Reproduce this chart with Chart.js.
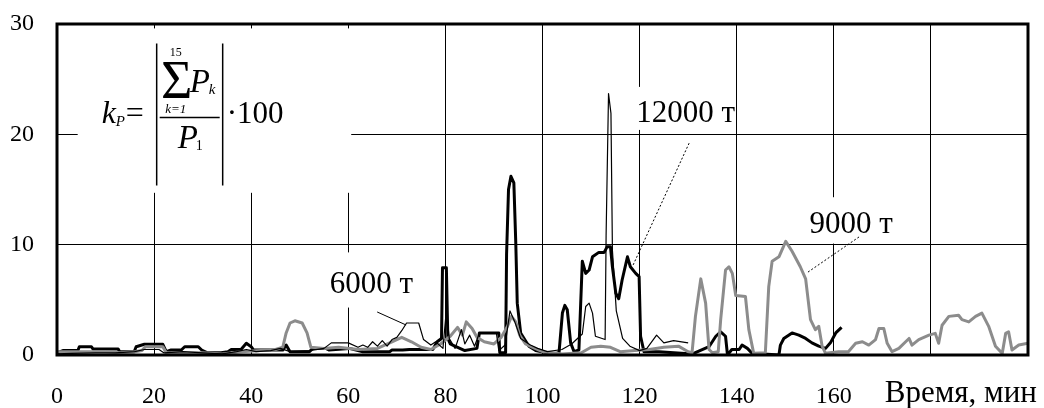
<!DOCTYPE html>
<html>
<head>
<meta charset="utf-8">
<script src="https://cdn.jsdelivr.net/npm/chart.js@4.4.1/dist/chart.umd.min.js"></script>
<style>
  html, body { margin: 0; padding: 0; background: #fff; }
</style>
</head>
<body>
<canvas id="chart" width="1044" height="408"></canvas>
<script>
// time, min
const xTicks = [0, 20, 40, 60, 80, 100, 120, 140, 160, 180, 200];
const yTicks = [0, 10, 20, 30];

// 6000 т (thin black line)
const t6000X = [0, 3, 8, 12, 16, 18, 21, 22, 26, 30, 34, 37, 39, 41, 44, 46, 48, 52, 55, 56.5,
  60, 62, 63, 64, 65, 66, 67, 68, 69, 70, 71, 72, 74.5, 75.5, 77, 78, 79.5, 80.2, 80.8, 82,
  83.3, 84, 85, 86, 87, 90.5, 91, 92.3, 93.3, 94.3, 95.5, 96.5, 97.5, 99, 101, 104, 106, 108.2, 108.9, 109.6,
  110.3, 110.9, 112.9, 113.1, 113.6, 114.1, 114.4, 115.2, 116.5, 118, 120, 121.5, 123.5, 125, 127, 130];
const t6000Y = [0.1, 0.15, 0.2, 0.2, 0.3, 0.5, 0.5, 0.2, 0.3, 0.2, 0.1, 0.3, 0.5, 0.3, 0.4, 0.6, 0.3, 0.4, 0.6, 1.1,
  1.1, 0.7, 0.9, 0.7, 1.2, 0.8, 1.3, 0.8, 1.4, 1.6, 2.2, 2.9, 2.9, 1.4, 0.9, 1.2, 0.6, 4.1, 1.5, 0.6,
  2.3, 1.0, 1.8, 0.8, 2.0, 2.0, 0.4, 0.9, 4.0, 3.0, 1.5, 1.2, 0.9, 0.6, 0.3, 0.5, 1.0, 1.9, 4.4, 4.7,
  3.8, 1.7, 1.4, 10.8, 23.7, 21.9, 9.5, 4.0, 1.5, 0.8, 0.4, 0.6, 1.8, 1.1, 1.3, 1.1];

// 9000 т (grey line)
const t9000X = [0, 5, 10, 13, 16, 17.5, 18.2, 21.8, 22.5, 30, 34, 38, 42, 45, 46.5, 47.2, 48, 49, 50.5, 51.5,
  52.3, 55, 58, 62, 66, 69, 71, 73, 75, 77, 79, 81, 82.5, 83.5, 84.3, 85.5, 86.5, 88, 90, 91.5,
  92.8, 93.6, 94.5, 95.3, 96.5, 98, 100, 104, 108, 110, 112, 114, 116, 119, 122, 125, 128, 130, 130.8, 131.5,
  132.6, 133.6, 134.3, 135, 136.2, 136.7, 137.7, 138.4, 139.1, 139.8, 141.8, 142.5, 143.5, 145.9, 146.6, 147.3, 148.7, 150.1, 151.4, 153.1,
  154.2, 155.2, 156.2, 156.9, 157.6, 158.3, 161, 163, 164.5, 165.9, 167.2, 168.6, 169.3, 170.3, 171, 172, 173.4, 174.8, 175.5, 176.1,
  177.5, 179.6, 180.9, 181.6, 182.3, 183.7, 185.7, 186.4, 187.8, 189.2, 190.5, 191.9, 193.3, 194.7, 195.4, 196, 196.7, 198.1, 200];
const t9000Y = [0.3, 0.3, 0.3, 0.2, 0.3, 0.4, 0.75, 0.75, 0.2, 0.2, 0.1, 0.3, 0.4, 0.5, 0.7, 2.0, 2.9, 3.1, 2.9, 2.0,
  0.7, 0.6, 0.7, 0.5, 0.6, 1.2, 1.6, 1.2, 0.7, 0.5, 1.0, 1.7, 2.5, 1.8, 3.0, 2.4, 1.6, 1.2, 1.0, 1.6,
  2.6, 3.5, 3.0, 1.8, 1.0, 0.7, 0.3, 0.1, 0.2, 0.7, 0.8, 0.7, 0.3, 0.4, 0.5, 0.7, 0.8, 0.3, 0.2, 3.5,
  6.9, 4.7, 0.5, 0.2, 0.3, 3.2, 7.7, 8.0, 7.4, 5.4, 5.3, 2.3, 0.15, 0.2, 6.2, 8.5, 8.9, 10.3, 9.4, 8.0,
  6.9, 3.2, 2.3, 2.6, 0.8, 0.15, 0.3, 0.3, 1.06, 1.2, 0.9, 1.4, 2.4, 2.4, 1.06, 0.3, 0.6, 1.2, 1.5, 0.9,
  1.4, 1.8, 1.96, 1.06, 2.7, 3.5, 3.6, 3.2, 3.0, 3.5, 3.8, 2.6, 0.8, 0.15, 1.96, 2.1, 0.45, 0.9, 1.06];

// 12000 т (thick black line)
const t12000X = [0, 1.2, 4.3, 4.6, 7.1, 7.4, 12.6, 12.9, 15.9, 16.3, 18, 21.8, 22.5, 23.5, 25.6, 26.3, 29.1, 29.8, 31, 33.8,
  35.2, 35.9, 37.9, 39, 40, 40.5, 46.5, 47.2, 48, 52, 52.7, 55.4, 56, 60.2, 63, 68.5, 69, 71.2, 72.6, 77.4,
  78.3, 79.2, 79.4, 80.2, 80.5, 81, 81.5, 84, 86.5, 87, 91, 91.2, 92.4, 92.6, 93, 93.5, 94.1, 94.5, 94.8, 95.5,
  97.2, 98.6, 102, 103.4, 104.1, 104.6, 105.1, 105.8, 106.5, 107.5, 108.2, 108.9, 109.6, 110.3, 111.6, 112.7, 113.3, 114, 114.4, 115.1,
  115.7, 116.4, 117.5, 118.1, 119.2, 119.9, 120.2, 120.9, 124, 130.9, 134.3, 135.7, 136.7, 137.7, 138.1, 139, 140.5, 141.1, 142.2, 143.2,
  148.7, 149, 149.7, 151.4, 152.8, 154.2, 155.5, 156.9, 158.3, 159.3, 160.4, 161.6];
const t12000Y = [0.2, 0.4, 0.4, 0.75, 0.75, 0.55, 0.55, 0.3, 0.3, 0.75, 0.97, 0.97, 0.3, 0.45, 0.45, 0.75, 0.75, 0.45, 0.2, 0.2,
  0.3, 0.5, 0.5, 1.06, 0.75, 0.45, 0.45, 0.9, 0.3, 0.3, 0.6, 0.6, 0.45, 0.6, 0.3, 0.3, 0.45, 0.45, 0.5, 0.5,
  1.2, 1.5, 7.9, 7.9, 1.5, 1.0, 0.9, 0.4, 0.6, 2.0, 2.0, 0.2, 0.2, 9.1, 15.0, 16.2, 15.6, 10.1, 4.7, 2.0,
  0.8, 0.4, 0.1, 0.2, 3.8, 4.5, 4.1, 1.1, 0.3, 0.45, 8.5, 7.4, 7.7, 8.9, 9.3, 9.3, 9.8, 9.8, 8.0, 5.6,
  5.1, 6.8, 8.9, 8.0, 7.4, 7.1, 1.7, 0.3, 0.3, 0.1, 0.75, 1.7, 2.1, 1.7, 0.0, 0.5, 0.5, 0.9, 0.6, 0.15,
  0.0, 0.9, 1.5, 2.0, 1.8, 1.5, 1.1, 0.8, 0.6, 1.1, 2.0, 2.5];

const FONT = '"Liberation Serif", "Times New Roman", serif';

// white boxes behind the text blocks: [xFrom, xTo, yTop, yBottom] in axis units
const maskBoxes = [
  [4.26, 60.6, 29.6, 14.7],
  [117.8, 138.4, 24.3, 20.4],
  [153.8, 174.4, 14.3, 10.1],
  [55.1, 75.6, 9.3, 4.3]
];
// callouts: text, text x, baseline y, leader from, leader to, dashed
const callouts = [
  { text: '12000 т', x: 119.3, y: 21.1, from: [130.2, 19.2], to: [118.5, 8.0], dash: true },
  { text: '9000 т', x: 155.0, y: 11.06, from: [165.2, 10.7], to: [154.4, 7.43], dash: true },
  { text: '6000 т', x: 56.2, y: 5.62, from: [65.95, 3.9], to: [71.9, 2.72], dash: false }
];

function toPoints(xs, ys) {
  return xs.map((v, i) => ({ x: v, y: ys[i] }));
}

const overlay = {
  id: 'overlay',
  beforeDatasetsDraw(chart) {
    const { ctx, scales: { x, y } } = chart;
    ctx.save();
    ctx.fillStyle = '#fff';
    maskBoxes.forEach(b => {
      const x0 = x.getPixelForValue(b[0]), x1 = x.getPixelForValue(b[1]);
      const y0 = y.getPixelForValue(b[2]), y1 = y.getPixelForValue(b[3]);
      ctx.fillRect(x0, y0, x1 - x0, y1 - y0);
    });
    ctx.restore();
  },
  afterDatasetsDraw(chart) {
    const { ctx, chartArea: a, scales: { x, y } } = chart;
    ctx.save();
    // frame
    ctx.strokeStyle = '#000';
    ctx.lineWidth = 3;
    ctx.strokeRect(a.left, a.top, a.right - a.left, a.bottom - a.top);

    // callouts
    ctx.fillStyle = '#000';
    ctx.textBaseline = 'alphabetic';
    ctx.textAlign = 'left';
    ctx.font = '31px ' + FONT;
    callouts.forEach(c => {
      ctx.fillText(c.text, x.getPixelForValue(c.x), y.getPixelForValue(c.y));
      ctx.beginPath();
      ctx.lineWidth = 1;
      ctx.setLineDash(c.dash ? [2, 2] : []);
      ctx.moveTo(x.getPixelForValue(c.from[0]), y.getPixelForValue(c.from[1]));
      ctx.lineTo(x.getPixelForValue(c.to[0]), y.getPixelForValue(c.to[1]));
      ctx.stroke();
    });
    ctx.setLineDash([]);

    // formula  k_P = |sum P_k / P_1| * 100
    const ox = x.getPixelForValue(maskBoxes[0][0]);
    const oy = y.getPixelForValue(maskBoxes[0][2]);
    ctx.font = 'italic 32px ' + FONT;
    ctx.fillText('k', ox + 24, oy + 95);
    ctx.font = 'italic 15px ' + FONT;
    ctx.fillText('P', ox + 38, oy + 98);
    ctx.font = '32px ' + FONT;
    ctx.fillText('=', ox + 48, oy + 95);
    ctx.lineWidth = 1.5;
    ctx.beginPath();
    ctx.moveTo(ox + 79, oy + 15); ctx.lineTo(ox + 79, oy + 157);
    ctx.moveTo(ox + 145, oy + 15); ctx.lineTo(ox + 145, oy + 157);
    ctx.moveTo(ox + 82, oy + 89); ctx.lineTo(ox + 142, oy + 89);
    ctx.stroke();
    ctx.textAlign = 'center';
    ctx.font = '12px ' + FONT;
    ctx.fillText('15', ox + 98, oy + 28);
    ctx.font = '54px ' + FONT;
    ctx.fillText('Σ', ox + 99, oy + 70);
    ctx.font = 'italic 13px ' + FONT;
    ctx.fillText('k=1', ox + 98, oy + 85);
    ctx.textAlign = 'left';
    ctx.font = 'italic 33px ' + FONT;
    ctx.fillText('P', ox + 112, oy + 64);
    ctx.fillText('P', ox + 100, oy + 120);
    ctx.font = 'italic 15px ' + FONT;
    ctx.fillText('k', ox + 131, oy + 66);
    ctx.font = '14px ' + FONT;
    ctx.fillText('1', ox + 118, oy + 122);
    ctx.font = '31px ' + FONT;
    ctx.fillText('·100', ox + 149, oy + 95);

    // axis caption
    ctx.font = '31px ' + FONT;
    ctx.fillText('Время, мин', x.getPixelForValue(170.5), a.bottom + 47);
    ctx.restore();
  }
};

Chart.defaults.font.family = FONT;
Chart.defaults.color = '#000';

new Chart(document.getElementById('chart'), {
  type: 'line',
  data: {
    datasets: [
      { label: '6000 т', data: toPoints(t6000X, t6000Y), borderColor: '#000', borderWidth: 1.2 },
      { label: '9000 т', data: toPoints(t9000X, t9000Y), borderColor: '#8c8c8c', borderWidth: 3 },
      { label: '12000 т', data: toPoints(t12000X, t12000Y), borderColor: '#000', borderWidth: 3 }
    ]
  },
  options: {
    responsive: false,
    animation: false,
    devicePixelRatio: 1,
    elements: { point: { radius: 0 }, line: { tension: 0, borderJoinStyle: 'round' } },
    layout: { padding: { top: 24, right: 16, left: 0, bottom: 0 } },
    plugins: { legend: { display: false }, tooltip: { enabled: false } },
    scales: {
      x: {
        type: 'linear',
        min: 0,
        max: 200,
        afterBuildTicks: s => { s.ticks = xTicks.map(v => ({ value: v })); },
        afterFit: s => { s.height = 53; },
        // tick marks are invisible, their length only spaces the labels
        grid: { color: '#000', lineWidth: 1, drawTicks: true, tickLength: 27, tickColor: 'rgba(0,0,0,0)' },
        border: { display: false },
        ticks: {
          font: { size: 24 },
          padding: 0,
          maxRotation: 0,
          autoSkip: false,
          callback: v => (v <= 160 ? String(v) : '')
        }
      },
      y: {
        min: 0,
        max: 30,
        afterBuildTicks: s => { s.ticks = yTicks.map(v => ({ value: v })); },
        afterFit: s => { s.width = 57; },
        grid: { color: '#000', lineWidth: 1, drawTicks: true, tickLength: 23, tickColor: 'rgba(0,0,0,0)' },
        border: { display: false },
        ticks: { font: { size: 24 }, padding: 0 }
      }
    }
  },
  plugins: [overlay]
});
</script>
</body>
</html>
